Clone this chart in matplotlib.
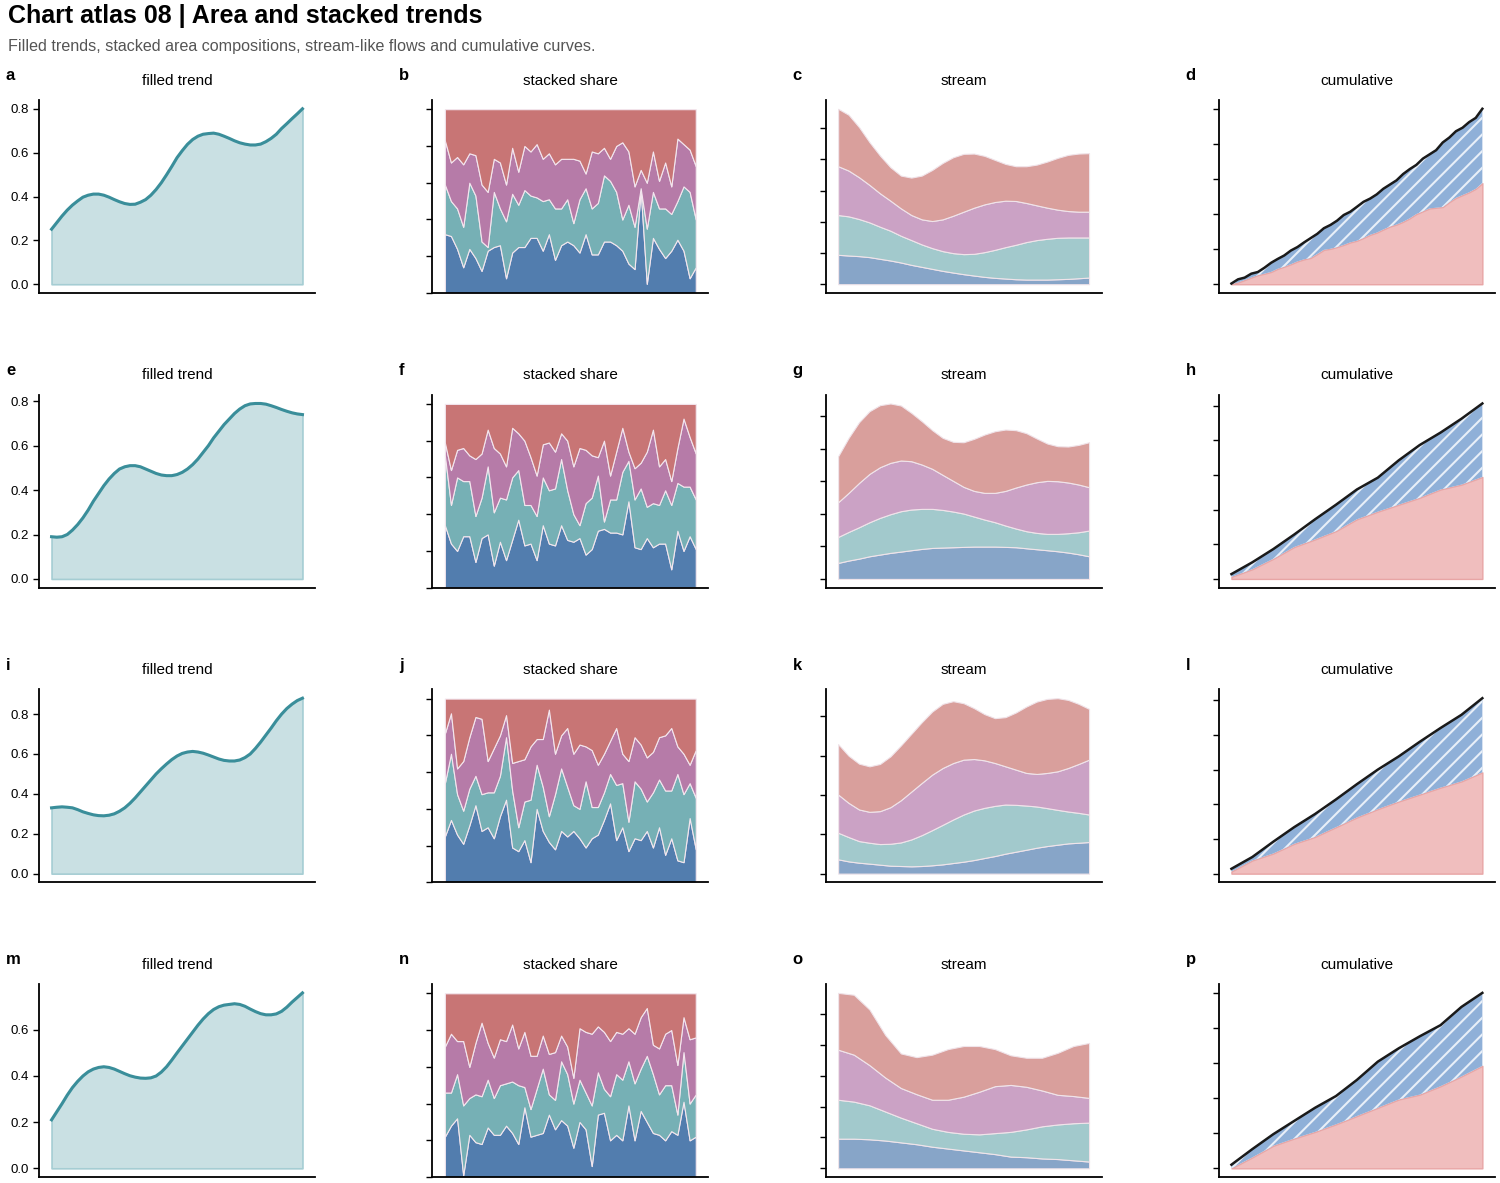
import numpy as np
import matplotlib
matplotlib.use("Agg")
import matplotlib.pyplot as plt

plt.rcParams['font.family'] = ['Liberation Sans', 'DejaVu Sans']
plt.rcParams['hatch.color'] = '#e8eff8'
plt.rcParams['hatch.linewidth'] = 1.5

# ---- filled trend (one curve per row) ----
trend_a = [0.251, 0.281, 0.311, 0.338, 0.361, 0.380, 0.397, 0.406, 0.411, 0.411, 0.406, 0.397,
           0.386, 0.376, 0.368, 0.364, 0.365, 0.374, 0.386, 0.406, 0.432, 0.463, 0.499, 0.537,
           0.577, 0.609, 0.638, 0.660, 0.675, 0.684, 0.687, 0.689, 0.684, 0.675, 0.665, 0.654,
           0.645, 0.639, 0.635, 0.635, 0.639, 0.650, 0.665, 0.684, 0.710, 0.732, 0.755, 0.777, 0.800]
trend_e = [0.19, 0.188, 0.19, 0.20, 0.22, 0.245, 0.275, 0.31, 0.35, 0.385, 0.42, 0.45, 0.475,
           0.495, 0.505, 0.51, 0.51, 0.505, 0.495, 0.485, 0.475, 0.468, 0.465, 0.465, 0.47, 0.48,
           0.495, 0.515, 0.54, 0.57, 0.60, 0.635, 0.665, 0.695, 0.72, 0.745, 0.765, 0.78, 0.788,
           0.79, 0.79, 0.787, 0.78, 0.772, 0.763, 0.755, 0.748, 0.743, 0.74]
trend_i = [0.33, 0.333, 0.335, 0.333, 0.33, 0.321, 0.31, 0.302, 0.295, 0.291, 0.29, 0.293, 0.30,
           0.313, 0.33, 0.353, 0.38, 0.41, 0.44, 0.47, 0.50, 0.526, 0.55, 0.572, 0.59, 0.603,
           0.61, 0.613, 0.61, 0.604, 0.595, 0.585, 0.575, 0.568, 0.565, 0.565, 0.57, 0.582, 0.60,
           0.628, 0.66, 0.695, 0.73, 0.767, 0.80, 0.828, 0.85, 0.868, 0.88]
trend_m = [0.21, 0.245, 0.28, 0.317, 0.35, 0.377, 0.40, 0.418, 0.43, 0.437, 0.44, 0.437, 0.43,
           0.42, 0.41, 0.401, 0.395, 0.391, 0.39, 0.392, 0.40, 0.417, 0.44, 0.469, 0.50, 0.53,
           0.56, 0.59, 0.62, 0.647, 0.67, 0.688, 0.70, 0.707, 0.71, 0.713, 0.71, 0.702, 0.69,
           0.679, 0.67, 0.665, 0.665, 0.669, 0.68, 0.698, 0.72, 0.74, 0.76]

# ---- stacked share: cumulative boundaries (blue top, teal top, purple top), total = 1 ----
share_b_blue = [0.32, 0.31, 0.24, 0.14, 0.24, 0.19, 0.12, 0.23, 0.25, 0.26, 0.08, 0.22, 0.25, 0.25,
                0.30, 0.30, 0.23, 0.32, 0.18, 0.26, 0.28, 0.26, 0.22, 0.32, 0.21, 0.21, 0.28, 0.28,
                0.26, 0.23, 0.16, 0.13, 0.56, 0.05, 0.30, 0.24, 0.19, 0.23, 0.29, 0.23, 0.08, 0.14]
share_b_teal = [0.59, 0.50, 0.46, 0.36, 0.60, 0.53, 0.28, 0.25, 0.55, 0.46, 0.39, 0.54, 0.48, 0.56,
                0.53, 0.52, 0.50, 0.51, 0.46, 0.46, 0.51, 0.38, 0.51, 0.57, 0.46, 0.49, 0.64, 0.61,
                0.55, 0.40, 0.48, 0.36, 0.57, 0.35, 0.55, 0.46, 0.46, 0.43, 0.50, 0.58, 0.55, 0.40]
share_b_purple = [0.83, 0.71, 0.74, 0.70, 0.76, 0.75, 0.59, 0.55, 0.73, 0.71, 0.59, 0.79, 0.66, 0.80,
                  0.77, 0.81, 0.73, 0.76, 0.70, 0.73, 0.73, 0.73, 0.72, 0.65, 0.77, 0.76, 0.79, 0.73,
                  0.80, 0.82, 0.77, 0.58, 0.67, 0.60, 0.77, 0.61, 0.71, 0.58, 0.84, 0.81, 0.78, 0.69]

share_f_blue = [0.34, 0.24, 0.20, 0.28, 0.28, 0.14, 0.27, 0.29, 0.12, 0.25, 0.15, 0.26, 0.37, 0.23,
                0.24, 0.15, 0.34, 0.24, 0.23, 0.34, 0.26, 0.25, 0.27, 0.18, 0.21, 0.31, 0.32, 0.30,
                0.30, 0.29, 0.47, 0.22, 0.21, 0.27, 0.22, 0.24, 0.24, 0.10, 0.31, 0.20, 0.28, 0.21]
share_f_teal = [0.72, 0.45, 0.60, 0.58, 0.58, 0.39, 0.49, 0.66, 0.41, 0.49, 0.48, 0.60, 0.64, 0.45,
                0.45, 0.39, 0.60, 0.53, 0.54, 0.70, 0.53, 0.40, 0.34, 0.46, 0.49, 0.61, 0.36, 0.48,
                0.48, 0.63, 0.69, 0.48, 0.54, 0.44, 0.46, 0.45, 0.53, 0.45, 0.57, 0.55, 0.55, 0.48]
share_f_purple = [0.79, 0.64, 0.75, 0.76, 0.72, 0.70, 0.73, 0.86, 0.76, 0.73, 0.66, 0.87, 0.84, 0.80,
                  0.71, 0.61, 0.78, 0.79, 0.74, 0.84, 0.80, 0.66, 0.76, 0.75, 0.72, 0.71, 0.80, 0.61,
                  0.74, 0.87, 0.74, 0.65, 0.68, 0.74, 0.86, 0.66, 0.70, 0.58, 0.76, 0.92, 0.82, 0.73]

share_j_blue = [0.25, 0.34, 0.26, 0.21, 0.31, 0.42, 0.28, 0.30, 0.24, 0.36, 0.45, 0.19, 0.17, 0.23,
                0.11, 0.40, 0.28, 0.22, 0.18, 0.28, 0.25, 0.28, 0.24, 0.19, 0.24, 0.26, 0.34, 0.43,
                0.23, 0.30, 0.17, 0.24, 0.23, 0.28, 0.19, 0.30, 0.15, 0.24, 0.12, 0.11, 0.35, 0.18]
share_j_teal = [0.54, 0.70, 0.48, 0.39, 0.51, 0.58, 0.48, 0.49, 0.49, 0.58, 0.79, 0.50, 0.30, 0.44,
                0.45, 0.64, 0.52, 0.36, 0.48, 0.62, 0.52, 0.42, 0.40, 0.55, 0.41, 0.41, 0.49, 0.59,
                0.53, 0.54, 0.33, 0.55, 0.51, 0.44, 0.49, 0.56, 0.50, 0.50, 0.59, 0.48, 0.54, 0.46]
share_j_purple = [0.81, 0.92, 0.62, 0.66, 0.79, 0.90, 0.89, 0.66, 0.73, 0.80, 0.91, 0.65, 0.66, 0.67,
                  0.74, 0.78, 0.78, 0.94, 0.70, 0.80, 0.84, 0.70, 0.75, 0.74, 0.72, 0.64, 0.70, 0.77,
                  0.84, 0.70, 0.66, 0.79, 0.75, 0.68, 0.71, 0.79, 0.80, 0.84, 0.74, 0.70, 0.64, 0.72]

share_n_blue = [0.22, 0.28, 0.32, 0.01, 0.23, 0.19, 0.18, 0.27, 0.23, 0.23, 0.28, 0.24, 0.18, 0.38,
                0.22, 0.23, 0.24, 0.34, 0.26, 0.31, 0.28, 0.16, 0.30, 0.26, 0.06, 0.34, 0.35, 0.20,
                0.23, 0.20, 0.39, 0.20, 0.36, 0.30, 0.24, 0.23, 0.20, 0.25, 0.23, 0.41, 0.20, 0.22]
share_n_teal = [0.46, 0.46, 0.56, 0.39, 0.43, 0.45, 0.44, 0.53, 0.43, 0.50, 0.51, 0.52, 0.50, 0.49,
                0.37, 0.48, 0.59, 0.45, 0.42, 0.63, 0.56, 0.40, 0.53, 0.46, 0.39, 0.57, 0.48, 0.44,
                0.56, 0.53, 0.63, 0.51, 0.59, 0.66, 0.56, 0.45, 0.50, 0.50, 0.34, 0.68, 0.40, 0.45]
share_n_purple = [0.71, 0.78, 0.74, 0.74, 0.60, 0.73, 0.84, 0.73, 0.65, 0.75, 0.74, 0.83, 0.70, 0.79,
                  0.66, 0.66, 0.77, 0.67, 0.68, 0.77, 0.71, 0.54, 0.81, 0.79, 0.78, 0.82, 0.79, 0.74,
                  0.79, 0.78, 0.81, 0.78, 0.87, 0.92, 0.72, 0.70, 0.78, 0.80, 0.61, 0.87, 0.75, 0.76]

# ---- stream: stacked tops of the layers (blue, teal, purple, red) ----
stream_c = [[0.471, 0.46, 0.45, 0.434, 0.407, 0.38, 0.348, 0.31, 0.278, 0.246, 0.214, 0.187, 0.161,
             0.139, 0.118, 0.102, 0.091, 0.08, 0.075, 0.075, 0.075, 0.08, 0.086, 0.096, 0.107],
            [1.108, 1.087, 1.044, 0.99, 0.921, 0.857, 0.776, 0.707, 0.637, 0.578, 0.53, 0.498, 0.482,
             0.487, 0.514, 0.551, 0.594, 0.632, 0.675, 0.707, 0.728, 0.744, 0.749, 0.749, 0.749],
            [1.89, 1.82, 1.713, 1.59, 1.456, 1.338, 1.215, 1.108, 1.039, 1.012, 1.039, 1.097, 1.162,
             1.226, 1.279, 1.317, 1.338, 1.333, 1.301, 1.263, 1.226, 1.194, 1.172, 1.162, 1.162],
            [2.81, 2.714, 2.516, 2.275, 2.061, 1.874, 1.74, 1.708, 1.74, 1.831, 1.943, 2.034, 2.088,
             2.093, 2.056, 1.991, 1.927, 1.89, 1.89, 1.916, 1.965, 2.024, 2.072, 2.093, 2.099]]
stream_g = [[0.246, 0.282, 0.312, 0.348, 0.374, 0.40, 0.42, 0.441, 0.461, 0.476, 0.482, 0.487, 0.492,
             0.497, 0.497, 0.497, 0.492, 0.487, 0.471, 0.456, 0.441, 0.425, 0.405, 0.379, 0.348],
            [0.645, 0.722, 0.794, 0.871, 0.938, 0.994, 1.04, 1.066, 1.076, 1.076, 1.06, 1.035, 1.004,
             0.958, 0.912, 0.871, 0.82, 0.774, 0.733, 0.707, 0.692, 0.692, 0.702, 0.717, 0.743],
            [1.178, 1.322, 1.475, 1.614, 1.716, 1.783, 1.819, 1.808, 1.757, 1.691, 1.598, 1.506, 1.414,
             1.352, 1.322, 1.322, 1.352, 1.404, 1.45, 1.486, 1.506, 1.501, 1.481, 1.45, 1.409],
            [1.885, 2.167, 2.408, 2.577, 2.669, 2.695, 2.664, 2.551, 2.423, 2.285, 2.167, 2.106, 2.1,
             2.152, 2.218, 2.269, 2.295, 2.285, 2.239, 2.157, 2.08, 2.039, 2.034, 2.059, 2.1]]
stream_k = [[0.182, 0.156, 0.139, 0.127, 0.114, 0.101, 0.097, 0.093, 0.097, 0.106, 0.118, 0.135, 0.152,
             0.173, 0.199, 0.224, 0.254, 0.279, 0.304, 0.33, 0.351, 0.368, 0.385, 0.393, 0.402],
            [0.52, 0.465, 0.414, 0.393, 0.376, 0.38, 0.397, 0.435, 0.49, 0.554, 0.621, 0.689, 0.752,
             0.803, 0.837, 0.862, 0.879, 0.875, 0.866, 0.854, 0.833, 0.811, 0.79, 0.773, 0.752],
            [1.006, 0.9, 0.816, 0.786, 0.795, 0.845, 0.934, 1.044, 1.154, 1.26, 1.344, 1.407, 1.45,
             1.458, 1.441, 1.407, 1.365, 1.323, 1.281, 1.268, 1.281, 1.302, 1.344, 1.395, 1.45],
            [1.648, 1.5, 1.399, 1.365, 1.395, 1.492, 1.631, 1.779, 1.927, 2.063, 2.16, 2.194, 2.168,
             2.105, 2.029, 1.978, 1.991, 2.05, 2.126, 2.189, 2.223, 2.232, 2.21, 2.16, 2.096]]
stream_o = [[0.48, 0.48, 0.47, 0.45, 0.42, 0.39, 0.35, 0.32, 0.29, 0.26, 0.23, 0.19, 0.18, 0.16, 0.15, 0.13, 0.11],
            [1.11, 1.08, 1.02, 0.92, 0.82, 0.73, 0.64, 0.59, 0.56, 0.55, 0.57, 0.59, 0.63, 0.68, 0.71, 0.73, 0.74],
            [1.92, 1.84, 1.67, 1.47, 1.30, 1.20, 1.11, 1.11, 1.16, 1.24, 1.33, 1.35, 1.32, 1.26, 1.19, 1.17, 1.14],
            [2.84, 2.81, 2.57, 2.16, 1.86, 1.80, 1.84, 1.93, 1.98, 1.98, 1.93, 1.83, 1.79, 1.79, 1.87, 1.98, 2.03]]

# ---- cumulative: total and part ----
cum_d_total = [0.1, 0.7, 0.94, 1.5, 1.74, 2.35, 3.05, 3.6, 4.1, 4.8, 5.3, 5.96, 6.57, 7.18, 7.98, 8.45,
               9.06, 9.86, 10.33, 11.03, 11.74, 12.2, 12.8, 13.6, 14.2, 14.8, 15.7, 16.4, 17.0, 17.9,
               18.5, 19.1, 20.2, 20.9, 21.8, 22.3, 23.1, 23.7, 25.0]
cum_d_part = [0.0, 0.25, 0.6, 0.95, 1.3, 1.5, 1.75, 2.2, 2.5, 2.85, 3.25, 3.55, 3.75, 4.3, 4.9, 5.05,
              5.3, 5.6, 5.96, 6.2, 6.6, 7.04, 7.35, 7.8, 8.22, 8.5, 8.9, 9.39, 10.0, 10.4, 10.8, 10.9,
              11.0, 11.7, 12.3, 12.7, 13.1, 13.6, 14.4]
cum_h_total = [0.7, 2.4, 4.3, 6.4, 8.6, 10.7, 12.9, 14.6, 17.1, 19.3, 21.1, 23.1, 25.3]
cum_h_part = [0.3, 1.4, 2.9, 4.6, 5.7, 6.9, 8.6, 9.7, 10.7, 11.7, 12.9, 13.6, 14.7]
cum_l_total = [0.7, 2.4, 4.6, 6.7, 8.6, 10.7, 12.9, 15.0, 16.9, 19.0, 21.0, 22.9, 25.3]
cum_l_part = [0.3, 1.9, 2.9, 4.3, 5.3, 6.7, 8.1, 9.3, 10.4, 11.4, 12.4, 13.3, 14.6]
cum_p_total = [0.52, 2.74, 4.86, 6.75, 8.63, 10.3, 12.6, 15.2, 17.1, 18.8, 20.4, 23.0, 25.0]
cum_p_part = [0.0, 1.56, 3.21, 4.25, 5.19, 6.27, 7.45, 8.63, 9.81, 10.5, 11.7, 13.1, 14.6]

letters = "abcdefghijklmnop"
titles = ["filled trend", "stacked share", "stream", "cumulative"]

trends = [trend_a, trend_e, trend_i, trend_m]
shares = [(share_b_blue, share_b_teal, share_b_purple),
          (share_f_blue, share_f_teal, share_f_purple),
          (share_j_blue, share_j_teal, share_j_purple),
          (share_n_blue, share_n_teal, share_n_purple)]
streams = [stream_c, stream_g, stream_k, stream_o]
cums = [(cum_d_total, cum_d_part), (cum_h_total, cum_h_part),
        (cum_l_total, cum_l_part), (cum_p_total, cum_p_part)]

share_colors = ["#527dae", "#76b0b5", "#b67ba8", "#c87575"]
stream_colors = ["#87a5c8", "#a2c9cc", "#cba2c5", "#d99f9c"]

W, H = 1500, 1183
fig = plt.figure(figsize=(15, 11.83), dpi=100)

fig.text(8 / W, 1 - 4 / H, "Chart atlas 08 | Area and stacked trends", fontsize=18,
         fontweight="bold", va="top", ha="left")
fig.text(8 / W, 1 - 47 / H, "Filled trends, stacked area compositions, stream-like flows and cumulative curves.",
         fontsize=11.6, color="#555555", va="center", ha="left")


def style(ax, col):
    for s in ["top", "right"]:
        ax.spines[s].set_visible(False)
    for s in ["left", "bottom"]:
        ax.spines[s].set_linewidth(1.3)
    ax.set_xticks([])
    ax.tick_params(axis="y", length=4, width=1, labelsize=9.5)
    if col > 0:
        ax.set_yticklabels([])


for r in range(4):
    for c in range(4):
        left = (39 + 393.3 * c) / W
        bottom = 1 - (293 + 294.7 * r) / H
        ax = fig.add_axes([left, bottom, 276 / W, 193 / H])

        if c == 0:
            y = np.array(trends[r])
            x = np.linspace(0, 1, len(y))
            ax.fill_between(x, 0, y, color="#c9e0e3", edgecolor="#a5cdd3", linewidth=1.2)
            ax.plot(x, y, color="#3a8e9a", lw=2.2)
        elif c == 1:
            blue, teal, purple = [np.array(v) for v in shares[r]]
            x = np.arange(len(blue))
            layers = np.vstack([blue, teal - blue, purple - teal, 1 - purple])
            ax.stackplot(x, layers, colors=share_colors, edgecolor="#f3e6ee", linewidth=0.8)
        elif c == 2:
            tops = np.array(streams[r])
            x = np.linspace(0, 1, tops.shape[1])
            base = np.zeros(tops.shape[1])
            for k in range(4):
                ax.fill_between(x, base, tops[k], color=stream_colors[k],
                                edgecolor="#f0e4ea", linewidth=0.8)
                base = tops[k]
        else:
            total, part = [np.array(v) for v in cums[r]]
            x = np.linspace(0, 1, len(total))
            ax.fill_between(x, 0, part, color="#f0bebe", edgecolor="#e8a5a5", linewidth=1.0)
            ax.fill_between(x, part, total, facecolor="#8fb0d8", edgecolor="#e8eff8",
                            hatch="//", linewidth=0)
            ax.plot(x, total, color="#1a1a1a", lw=1.8)

        style(ax, c)
        ax.set_title(titles[c], fontsize=11, pad=11)
        ax.text(-0.12, 1.125, letters[r * 4 + c], transform=ax.transAxes,
                fontsize=12, fontweight="bold", va="center", ha="left")

fig.savefig("out.png", dpi=100)
